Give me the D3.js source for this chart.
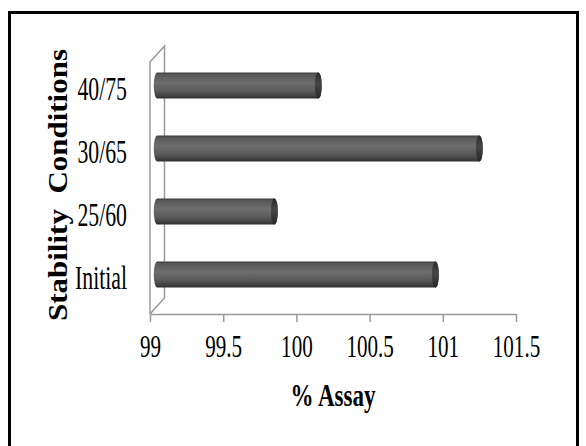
<!DOCTYPE html>
<html>
<head>
<meta charset="utf-8">
<script src="https://cdn.jsdelivr.net/npm/d3@7"></script>
<style>
  html, body { margin: 0; padding: 0; background: #fff; }
  svg { display: block; }
  text { font-family: "Liberation Serif", "Times New Roman", serif; fill: #000; }
</style>
</head>
<body>
<svg id="chart" width="586" height="446"></svg>
<script>
// Assay results per stability condition
const categories = ["Initial", "25/60", "30/65", "40/75"];
const assay = [100.9, 99.8, 101.2, 100.1];
const xTicks = [99, 99.5, 100, 100.5, 101, 101.5];
const xTitle = "% Assay";
const yTitle = "Stability  Conditions";

const svg = d3.select("#chart");

// outer frame
svg.append("rect")
  .attr("x", 9.5).attr("y", 12.5)
  .attr("width", 568).attr("height", 460)
  .attr("fill", "#fff").attr("stroke", "#000").attr("stroke-width", 3);

// 3-D depth of the plot box
const depthX = 14.5, depthY = -16;

const x = d3.scaleLinear().domain([99, 101.5]).range([150, 516]);
// category bands on the front plane
const y = d3.scaleBand().domain(categories).range([314, 62])
  .paddingInner(0.59).paddingOuter(0.295);

const axisColor = "#9a9a9a";
const defs = svg.append("defs");

const bodyGrad = defs.append("linearGradient").attr("id", "cylBody")
  .attr("x1", 0).attr("y1", 0).attr("x2", 0).attr("y2", 1);
[[0, "#3c3c3c"], [0.08, "#585858"], [0.4, "#6e6e6e"], [0.7, "#5c5c5c"], [0.9, "#414141"], [1, "#2e2e2e"]]
  .forEach(([o, c]) => bodyGrad.append("stop").attr("offset", o).attr("stop-color", c));

const capGrad = defs.append("linearGradient").attr("id", "cylCap")
  .attr("x1", 0).attr("y1", 0).attr("x2", 0).attr("y2", 1);
[[0, "#2c2c2c"], [0.45, "#474747"], [1, "#262626"]]
  .forEach(([o, c]) => capGrad.append("stop").attr("offset", o).attr("stop-color", c));

// side wall (front edge, back edge and the joining diagonals)
const [y0, y1] = y.range();
const wall = d3.path();
wall.moveTo(x(99), y0);
wall.lineTo(x(99), y1);
wall.lineTo(x(99) + depthX, y1 + depthY);
wall.lineTo(x(99) + depthX, y0 + depthY);
wall.lineTo(x(99), y0);
svg.append("path").attr("d", wall.toString())
  .attr("fill", "none").attr("stroke", axisColor).attr("stroke-width", 1.5);

// x axis
const xAxis = d3.axisBottom(x).tickValues(xTicks).tickSize(8).tickSizeOuter(0)
  .tickFormat(d3.format("~g"));
const gx = svg.append("g").attr("transform", `translate(0,${y0})`).call(xAxis);
gx.select(".domain").attr("stroke", axisColor).attr("stroke-width", 1.5);
gx.selectAll(".tick line").attr("stroke", axisColor).attr("stroke-width", 1.5);
gx.selectAll(".tick text")
  .attr("y", 43).attr("dy", 0)
  .attr("font-size", 31)
  .attr("font-family", "Liberation Serif, Times New Roman, serif")
  .attr("transform", "scale(0.68,1)")
  .attr("fill", "#000");

// cylinders, set at half depth
const rx = 3.5;
const bars = svg.append("g");
categories.forEach((c, i) => {
  const h = y.bandwidth();
  const top = y(c) + depthY / 2;
  const bot = top + h;
  const xa = x(99) + depthX / 2;
  const xb = x(assay[i]) + depthX / 2;
  const d = `M${xa},${top} L${xb},${top} A${rx},${h / 2} 0 0 1 ${xb},${bot} L${xa},${bot} A${rx},${h / 2} 0 0 1 ${xa},${top} Z`;
  bars.append("path").attr("d", d).attr("fill", "url(#cylBody)");
  bars.append("ellipse")
    .attr("cx", xb).attr("cy", top + h / 2)
    .attr("rx", rx).attr("ry", h / 2)
    .attr("fill", "url(#cylCap)");
});

// category labels
svg.append("g").selectAll("text").data(categories).join("text")
  .attr("transform", d => `translate(127,${y(d) + depthY / 2 + y.bandwidth() / 2 + 14}) scale(0.66,1)`)
  .attr("text-anchor", "end")
  .attr("font-size", 33)
  .text(d => d);

// axis titles
svg.append("text")
  .attr("transform", "translate(333,406) scale(0.72,1)")
  .attr("text-anchor", "middle")
  .attr("font-size", 32).attr("font-weight", "bold")
  .text(xTitle);

svg.append("text")
  .attr("transform", "translate(67,185) rotate(-90) scale(1,0.85)")
  .attr("text-anchor", "middle")
  .attr("font-size", 31).attr("font-weight", "bold")
  .style("white-space", "pre")
  .text(yTitle);
</script>
</body>
</html>
